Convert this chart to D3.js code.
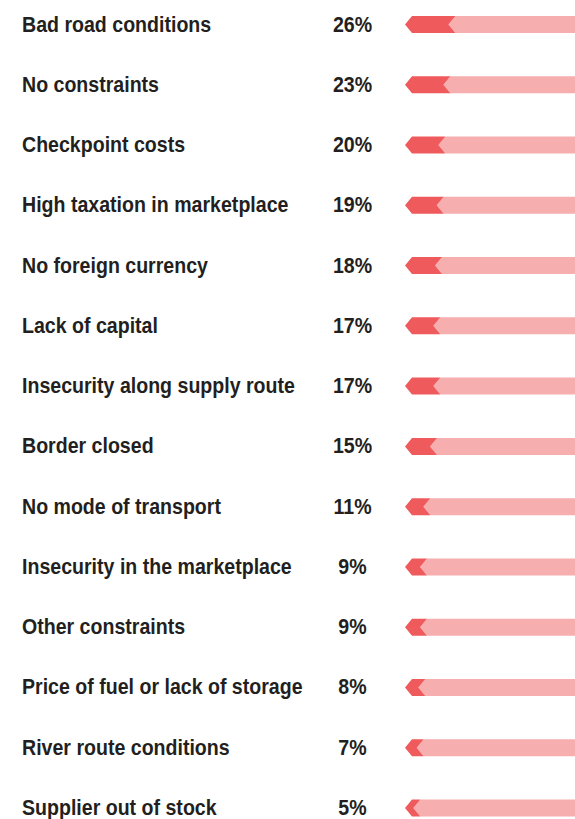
<!DOCTYPE html>
<html lang="en">
<head>
<meta charset="utf-8">
<title>Market constraints</title>
<script src="https://d3js.org/d3.v7.min.js"></script>
<style>
  body { margin: 0; background: #fff; }
  text { font-family: "Liberation Sans", Arial, sans-serif; font-weight: bold; fill: #231f20; }
</style>
</head>
<body>
<script>
// data
const categories = ["Bad road conditions", "No constraints", "Checkpoint costs", "High taxation in marketplace",
  "No foreign currency", "Lack of capital", "Insecurity along supply route", "Border closed",
  "No mode of transport", "Insecurity in the marketplace", "Other constraints",
  "Price of fuel or lack of storage", "River route conditions", "Supplier out of stock"];
const values = [26, 23, 20, 19, 18, 17, 17, 15, 11, 9, 9, 8, 7, 5];

const width = 575, height = 819;
const svg = d3.select("body").append("svg")
  .attr("width", width).attr("height", height);

// row positions
const y = d3.scalePoint().domain(categories).range([24.5, 808]);

// bar geometry
const x0 = 405, xEnd = 575, tip = 7, barH = 17;
const x = d3.scaleLinear().domain([0, 100]).range([0, 167]);

const rows = svg.selectAll("g.row")
  .data(categories.map((c, i) => ({ c: c, v: values[i] })))
  .join("g")
  .attr("class", "row")
  .attr("transform", d => `translate(0,${y(d.c)})`);

// narrow-looking labels: squeeze the bold sans horizontally
rows.append("text")
  .attr("transform", "translate(22,7) scale(0.89,1)")
  .style("font-size", "22px")
  .text(d => d.c);

rows.append("text")
  .attr("transform", "translate(352.5,7) scale(0.89,1)")
  .attr("text-anchor", "middle")
  .style("font-size", "22px")
  .text(d => d.v + "%");

// light track (starts at chevron notch)
rows.append("path")
  .attr("fill", "#f7aeae")
  .attr("d", d => {
    const w = x(d.v);
    return `M${x0 + w},0 L${x0 + w + tip},${-barH / 2} L${xEnd},${-barH / 2} L${xEnd},${barH / 2} L${x0 + w + tip},${barH / 2} Z`;
  });

// dark arrow
rows.append("path")
  .attr("fill", "#ef5a5d")
  .attr("d", d => {
    const w = x(d.v);
    return `M${x0},0 L${x0 + tip},${-barH / 2} L${x0 + w + tip},${-barH / 2} L${x0 + w},0 L${x0 + w + tip},${barH / 2} L${x0 + tip},${barH / 2} Z`;
  });
</script>
</body>
</html>
